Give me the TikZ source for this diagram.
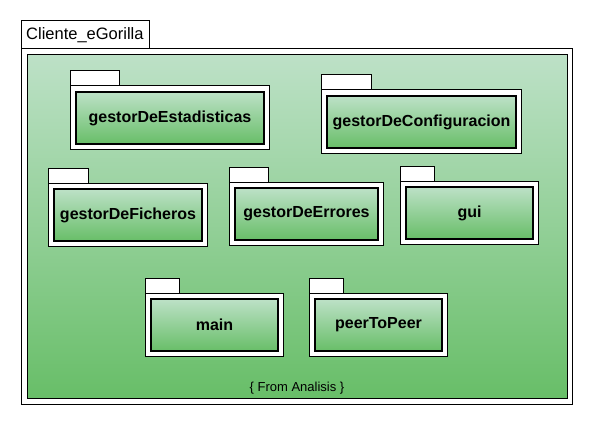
\documentclass[tikz,border=0pt]{standalone}
\usepackage{fontspec}
\setmainfont{Liberation Sans}
\definecolor{gtop}{RGB}{189,225,199}
\definecolor{gbot}{RGB}{104,190,104}
\tikzset{
  frame/.style={draw=black, line width=1pt, fill=white, inner sep=0pt, outer sep=0pt},
  outergreen/.style={draw=black, line width=1pt, top color=gtop, bottom color=gbot, inner sep=0pt, outer sep=0pt},
  greenbox/.style={draw=black, line width=1.6pt, top color=gtop, bottom color=gbot, inner sep=0pt, outer sep=0pt},
  pkgtext/.style={font=\fontsize{16}{19}\selectfont\bfseries},
  titletext/.style={font=\fontsize{16.5}{19}\selectfont, inner sep=0pt, anchor=west},
  notetext/.style={font=\fontsize{13}{15}\selectfont, inner sep=0pt}
}
\newcommand\pkgbox[8]{%
  \pgfmathsetmacro\pkTW{#4-#2}\pgfmathsetmacro\pkTH{#5-#3}%
  \pgfmathsetmacro\pkBW{#6-#2}\pgfmathsetmacro\pkBH{#7-#5}%
  \pgfmathsetmacro\pkIW{#6-#2-11}\pgfmathsetmacro\pkIH{#7-#5-11}%
  \node[frame, minimum width=\pkTW pt, minimum height=\pkTH pt] (#1tab) at ({(#2+#4)/2},{(#3+#5)/2}) {};
  \node[frame, minimum width=\pkBW pt, minimum height=\pkBH pt] (#1body) at ({(#2+#6)/2},{(#5+#7)/2}) {};
  \node[greenbox, pkgtext, minimum width=\pkIW pt, minimum height=\pkIH pt] (#1) at ({(#2+#6)/2+0.5},{(#5+#7)/2+0.5}) {#8};
}
\begin{document}
\begin{tikzpicture}[x=1pt,y=-1pt]
  \useasboundingbox (0,0) rectangle (593,425);
  % outer package
  \node[frame, minimum width=128pt, minimum height=28pt] (outertab) at (85,35) {};
  \node[titletext] (outertitle) at (26,35) {Cliente\_eGorilla};
  \node[frame, minimum width=551pt, minimum height=355pt] (outerbody) at (296.5,226.5) {};
  \node[outergreen, minimum width=540pt, minimum height=343pt] (outerfill) at (297,226.5) {};
  % packages
  \pkgbox{est}{70}{71}{119}{86}{269}{149}{gestorDeEstadisticas}
  \pkgbox{conf}{321}{75}{371}{90}{521}{153}{gestorDeConfiguracion}
  \pkgbox{fich}{48}{168}{88}{183}{207}{246}{gestorDeFicheros}
  \pkgbox{err}{229}{167}{268}{182}{383}{245}{gestorDeErrores}
  \pkgbox{gui}{400}{166}{434}{181}{538}{244}{gui}
  \pkgbox{main}{145}{278}{179}{293}{283}{356}{main}
  \pkgbox{p2p}{309}{278}{343}{293}{447}{356}{peerToPeer}
  \node[notetext] (note) at (297,388) {\{ From Analisis \}};
\end{tikzpicture}
\end{document}
